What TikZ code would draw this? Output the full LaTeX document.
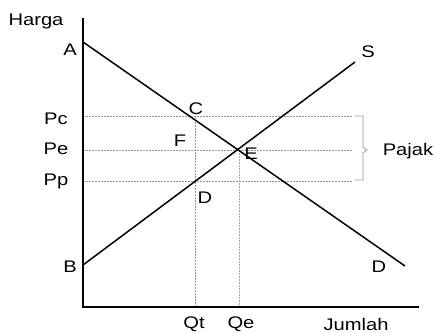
\documentclass[tikz,border=0pt]{standalone}
\usepackage{fontspec}
\setmainfont{Liberation Sans}

\begin{document}
\begin{tikzpicture}[x=1pt,y=-1pt]
    \definecolor{guidegray}{RGB}{150,150,150}
    \definecolor{guideblue}{RGB}{150,165,185}
    \tikzset{
        lbl/.style={inner sep=0pt,xscale=1.2,font=\fontsize{16.8}{19}\selectfont},
        curve/.style={line width=1.5pt},
        guide/.style={guidegray,line width=0.6pt,dash pattern=on 2pt off 1pt}
    }
    \useasboundingbox (0,0) rectangle (436,333);

    % points
    \coordinate (O) at (83,307);
    \coordinate (top) at (83,18);
    \coordinate (right) at (419,307);
    \coordinate (A) at (83,42);
    \coordinate (Dend) at (405,266);
    \coordinate (B) at (83,265);
    \coordinate (Send) at (355,62);
    \coordinate (C) at (195,116);
    \coordinate (E) at (239,150);
    \coordinate (Dp) at (195,181);

    % guides
    \draw[guide] (83,116) -- (352,116);
    \draw[guide] (83,150) -- (352,150);
    \draw[guide] (83,181) -- (352,181);
    \draw[guide] (C) -- (C |- O);
    \draw[guide,guideblue] (E) -- (E |- O);

    % axes
    \draw[line width=2pt] (top) -- (O) -- (right);

    % demand and supply
    \draw[curve] (A) -- (Dend);
    \draw[curve] (B) -- (Send);

    % tax bracket
    \draw[guidegray,line width=0.8pt] (355,116) -- (363,116) -- (363,147)
        -- (367,150) -- (363,153) -- (363,180) -- (355,180);

    % labels
    \node[lbl] (harga) at (36,21) {Harga};
    \node[lbl] (lA) at (70,50) {A};
    \node[lbl] (lB) at (70,267) {B};
    \node[lbl] (lPc) at (56,119) {Pc};
    \node[lbl] (lPe) at (56,149) {Pe};
    \node[lbl] (lPp) at (56,181) {Pp};
    \node[lbl] (lC) at (196,109) {C};
    \node[lbl] (lF) at (180,141) {F};
    \node[lbl] (lE) at (251,154) {E};
    \node[lbl] (lDp) at (205,198) {D};
    \node[lbl] (lD) at (379,267) {D};
    \node[lbl] (lS) at (368,52) {S};
    \node[lbl] (pajak) at (408,151) {Pajak};
    \node[lbl] (lQt) at (194,324) {Qt};
    \node[lbl] (lQe) at (241,324) {Qe};
    \node[lbl] (jumlah) at (356,324) {Jumlah};
\end{tikzpicture}
\end{document}
